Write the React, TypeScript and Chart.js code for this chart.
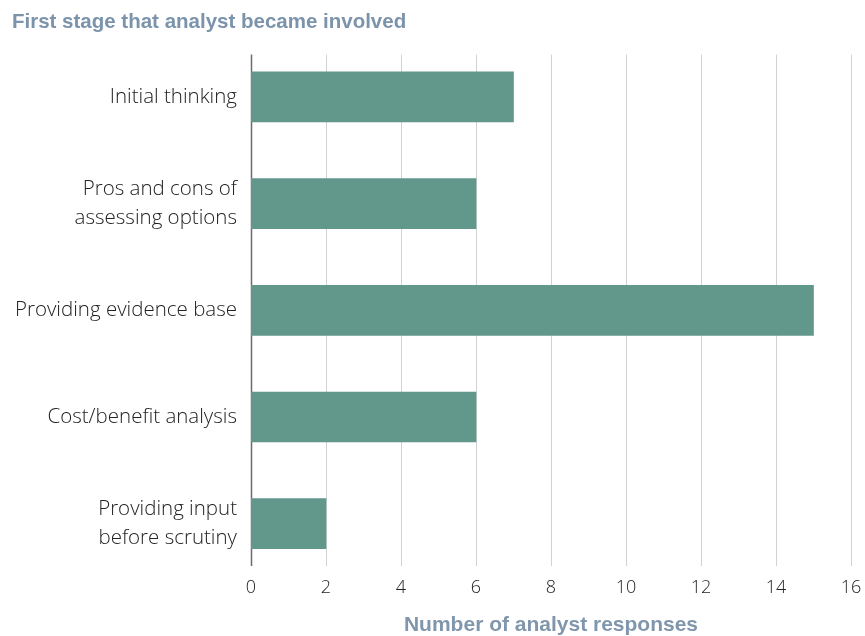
import React, { useEffect, useRef } from "react";
import { Chart, registerables } from "chart.js";

Chart.register(...registerables);

const categories: string[][] = [
  ["Initial thinking"],
  ["Pros and cons of", "assessing options"],
  ["Providing evidence base"],
  ["Cost/benefit analysis"],
  ["Providing input", "before scrutiny"],
];
const responses: number[] = [7, 6, 15, 6, 2];
const xMin = 0;
const xMax = 16;
const xStep = 2;

const chartTitle = "First stage that analyst became involved";
const xAxisTitle = "Number of analyst responses";

const gridPlugin = {
  id: "insetGrid",
  beforeDatasetsDraw(chart: any) {
    const { ctx, chartArea, scales } = chart;
    const x = scales.x;
    const top = chartArea.top + 11;
    const bottom = chartArea.bottom - 11;
    ctx.save();
    x.ticks.forEach((t: any) => {
      const px = Math.round(x.getPixelForValue(t.value)) + 0.5;
      ctx.beginPath();
      if (t.value === 0) {
        ctx.strokeStyle = "#6b6b6b";
        ctx.lineWidth = 1.5;
      } else {
        ctx.strokeStyle = "#d2d2d2";
        ctx.lineWidth = 1;
      }
      ctx.moveTo(px, top);
      ctx.lineTo(px, bottom);
      ctx.stroke();
    });
    ctx.restore();
  },
};

export default function App() {
  const ref = useRef<HTMLCanvasElement | null>(null);
  useEffect(() => {
    document.body.style.margin = "0";
    const canvas = ref.current;
    if (!canvas) return;
    const chart = new Chart(canvas, {
      type: "bar",
      data: {
        labels: categories,
        datasets: [
          {
            data: responses,
            backgroundColor: "#62978c",
            borderWidth: 0,
            barThickness: 50,
          },
        ],
      },
      plugins: [gridPlugin],
      options: {
        indexAxis: "y",
        animation: false,
        responsive: false,
        maintainAspectRatio: false,
        layout: { padding: { left: 12, right: 14, top: 0, bottom: 0 } },
        plugins: {
          legend: { display: false },
          tooltip: { enabled: false },
          title: {
            display: true,
            text: chartTitle,
            align: "start",
            color: "#7b93ab",
            font: { family: "'Liberation Sans', Arial, sans-serif", size: 20.5, weight: "bold" },
            padding: { top: 10, bottom: 9 },
          },
        },
        scales: {
          x: {
            type: "linear",
            min: xMin,
            max: xMax,
            ticks: {
              stepSize: xStep,
              color: "#222",
              padding: 0,
              font: { family: "'Open Sans', Roboto, 'Liberation Sans', sans-serif", size: 18, weight: "300" },
            },
            grid: { display: false, drawTicks: false },
            border: { display: false },
            title: {
              display: true,
              text: xAxisTitle,
              color: "#8096ac",
              font: { family: "'Liberation Sans Narrow', 'Liberation Sans', sans-serif", size: 21, weight: "bold", lineHeight: 1.0 },
              padding: { top: 0, bottom: 0 },
            },
            afterFit(scale: any) {
              scale.height = 59;
            },
          },
          y: {
            type: "category",
            ticks: {
              color: "#222",
              padding: 14,
              font: { family: "'Open Sans', Roboto, 'Liberation Sans', sans-serif", size: 20.5, weight: "300", lineHeight: 1.37 },
            },
            grid: { display: false, drawTicks: false },
            border: { display: false },
            afterFit(scale: any) {
              scale.width = 239;
            },
          },
        },
      },
    } as any);
    return () => chart.destroy();
  }, []);
  return (
    <div style={{ width: 865, height: 636 }}>
      <canvas ref={ref} width={865} height={636} style={{ display: "block" }} />
    </div>
  );
}
